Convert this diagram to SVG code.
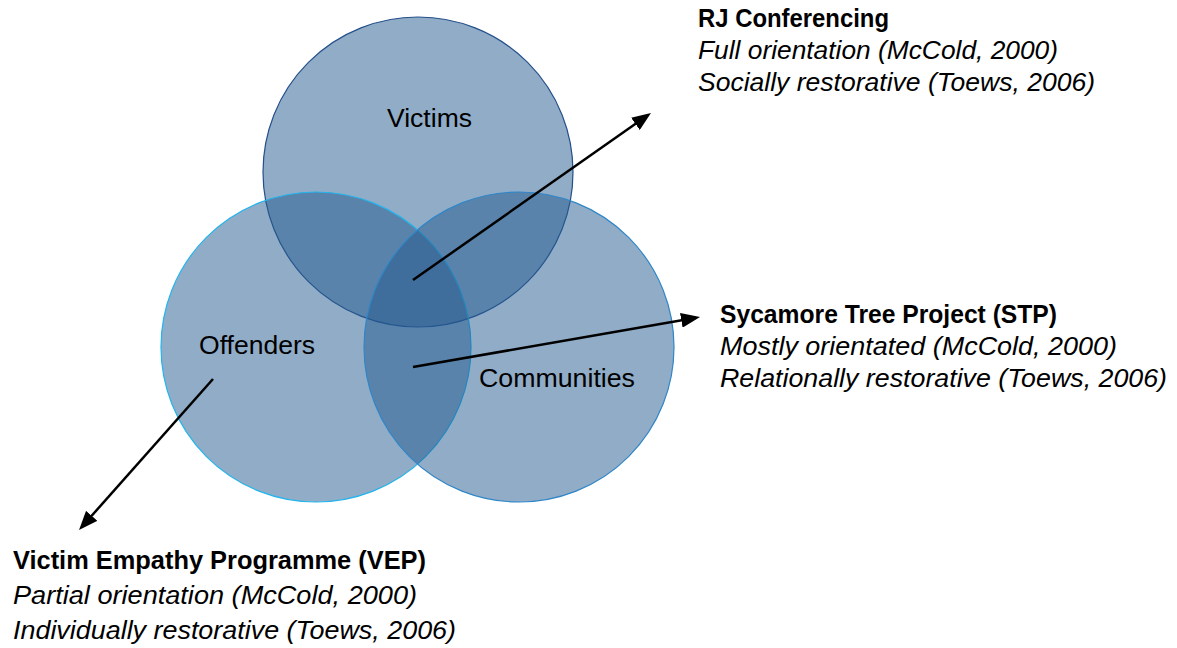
<svg xmlns="http://www.w3.org/2000/svg" width="1177" height="648" viewBox="0 0 1177 648">
  <style>
    .circ { fill: #23598f; fill-opacity: 0.5; stroke-width: 1.2; }
    .clabel { font-family: "Liberation Sans", Arial, sans-serif; font-size: 26px; fill: #000; }
    .txt { font-family: "Liberation Sans", Arial, sans-serif; font-size: 25px; fill: #000; }
    .b { font-weight: bold; }
    .i { font-style: italic; }
    .conn { stroke: #000; stroke-width: 2.5; fill: none; marker-end: url(#arrow); }
  </style>
  <defs>
    <marker id="arrow" viewBox="0 0 19 15" refX="15" refY="7.5" markerWidth="19" markerHeight="15" markerUnits="userSpaceOnUse" orient="auto">
      <path d="M0,0 L19,7.5 L0,15 Z" fill="#000"/>
    </marker>
  </defs>
  <rect width="1177" height="648" fill="#fff"/>

  <g id="victims">
    <circle class="circ" cx="418" cy="172" r="155" stroke="#24508a"/>
    <text class="clabel" x="387" y="127" textLength="85" lengthAdjust="spacingAndGlyphs">Victims</text>
  </g>
  <g id="offenders">
    <circle class="circ" cx="316" cy="347" r="155" stroke="#22b4ec"/>
    <text class="clabel" x="199" y="354" textLength="116" lengthAdjust="spacingAndGlyphs">Offenders</text>
  </g>
  <g id="communities">
    <circle class="circ" cx="519" cy="347" r="155" stroke="#2f86c8"/>
    <text class="clabel" x="479" y="387" textLength="156" lengthAdjust="spacingAndGlyphs">Communities</text>
  </g>

  <g id="connectors">
    <line class="conn" x1="413" y1="280" x2="647.7" y2="115.3"/>
    <line class="conn" x1="413" y1="367" x2="696.1" y2="317.7"/>
    <line class="conn" x1="213" y1="379" x2="81.7" y2="527"/>
  </g>

  <g id="rj-conferencing">
    <text class="txt b" x="698" y="27" textLength="191" lengthAdjust="spacingAndGlyphs">RJ Conferencing</text>
    <text class="txt i" x="698" y="59" textLength="360" lengthAdjust="spacingAndGlyphs">Full orientation (McCold, 2000)</text>
    <text class="txt i" x="698" y="91" textLength="397" lengthAdjust="spacingAndGlyphs">Socially restorative (Toews, 2006)</text>
  </g>
  <g id="stp">
    <text class="txt b" x="720" y="323" textLength="337" lengthAdjust="spacingAndGlyphs">Sycamore Tree Project (STP)</text>
    <text class="txt i" x="720" y="355" textLength="397" lengthAdjust="spacingAndGlyphs">Mostly orientated (McCold, 2000)</text>
    <text class="txt i" x="720" y="387" textLength="447" lengthAdjust="spacingAndGlyphs">Relationally restorative (Toews, 2006)</text>
  </g>
  <g id="vep">
    <text class="txt b" x="13" y="569" textLength="413" lengthAdjust="spacingAndGlyphs">Victim Empathy Programme (VEP)</text>
    <text class="txt i" x="13" y="604" textLength="404" lengthAdjust="spacingAndGlyphs">Partial orientation (McCold, 2000)</text>
    <text class="txt i" x="13" y="639" textLength="443" lengthAdjust="spacingAndGlyphs">Individually restorative (Toews, 2006)</text>
  </g>
</svg>
